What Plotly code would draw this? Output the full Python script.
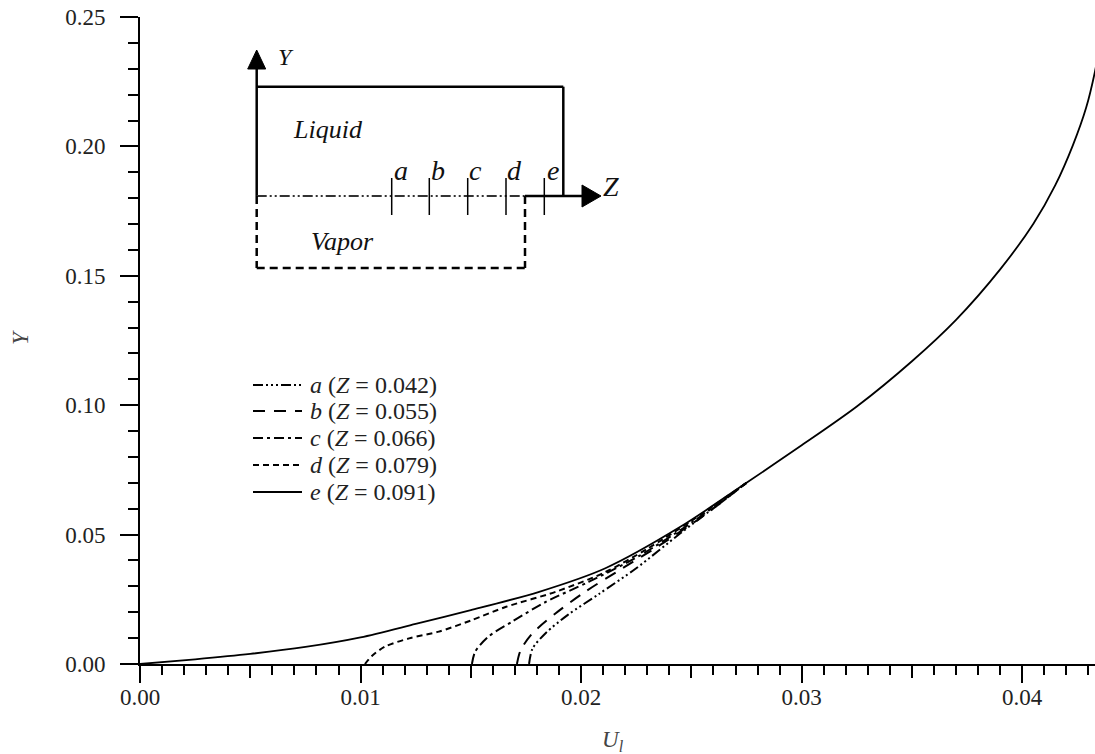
import plotly.graph_objects as go

# ---------------- data ----------------
U_e = [0, 0.0025, 0.005, 0.0075, 0.0100, 0.0125, 0.0150, 0.0181, 0.0211, 0.0245,
       0.0275, 0.0300, 0.0325, 0.0350, 0.0370, 0.0390, 0.0405, 0.0415, 0.0423,
       0.0429, 0.0433, 0.04345]
Y_e = [0, 0.0018, 0.0039, 0.0066, 0.0103, 0.0155, 0.0208, 0.0279, 0.0370, 0.0530,
       0.0700, 0.0845, 0.0995, 0.1170, 0.1330, 0.1525, 0.1700, 0.1850, 0.2005,
       0.2150, 0.2290, 0.2360]

U_d = [0.0102, 0.0105, 0.0111, 0.0122, 0.01355, 0.0150, 0.0166, 0.01885, 0.0211, 0.0230, 0.0250, 0.0275]
Y_d = [0.0000, 0.0030, 0.0067, 0.0099, 0.0125, 0.0168, 0.0221, 0.0279, 0.0355, 0.0445, 0.0553, 0.0700]

U_c = [0.01505, 0.0152, 0.0158, 0.01686, 0.0184, 0.02036, 0.02264, 0.0250, 0.0275]
Y_c = [0.0000, 0.0048, 0.0106, 0.0163, 0.0240, 0.0318, 0.0418, 0.0546, 0.0700]

U_b = [0.01709, 0.01726, 0.0178, 0.01885, 0.0202, 0.02188, 0.0234, 0.0255, 0.0275]
Y_b = [0.0000, 0.0054, 0.0119, 0.0196, 0.0280, 0.0370, 0.0450, 0.0570, 0.0700]

U_a = [0.01764, 0.0178, 0.0184, 0.0194, 0.0208, 0.0225, 0.0245, 0.0262, 0.0275]
Y_a = [0.0000, 0.0060, 0.0120, 0.0190, 0.0270, 0.0370, 0.0505, 0.0615, 0.0700]

labels = ["a", "b", "c", "d", "e"]
z_values = ["0.042", "0.055", "0.066", "0.079", "0.091"]
x_ticks = [0.00, 0.01, 0.02, 0.03, 0.04]
y_ticks = [0.00, 0.05, 0.10, 0.15, 0.20, 0.25]

# ---------------- figure ----------------
FONT = "Liberation Serif"
W_PX, H_PX = 1095, 754
L, R, T, B = 140, 1095, 17, 664

def px(x):
    return (x - L) / (R - L)

def py(y):
    return (B - y) / (B - T)

dashes = ["10px,3px,2px,3px,2px,3px,2px,3px", "12px,9px", "10px,4px,3px,4px", "6px,4px", "solid"]
series = [(U_a, Y_a), (U_b, Y_b), (U_c, Y_c), (U_d, Y_d), (U_e, Y_e)]

fig = go.Figure()
for (u, y), dash, lab, zv in zip(series, dashes, labels, z_values):
    fig.add_trace(go.Scatter(
        x=u, y=y, mode="lines", line_shape="spline",
        line=dict(color="black", width=2 if dash != "solid" else 1.8, dash=dash,
                  smoothing=0.8),
        name=f"{lab} (Z = {zv})", showlegend=False,
    ))

# helper trace for the medium-tick axis
fig.add_trace(go.Scatter(x=[0.02], y=[0.0], xaxis="x2", mode="markers",
                         marker=dict(opacity=0), showlegend=False, hoverinfo="skip"))

fig.update_layout(
    width=W_PX, height=H_PX,
    margin=dict(l=L, r=W_PX - R, t=T, b=H_PX - B),
    paper_bgcolor="white", plot_bgcolor="white",
    font=dict(family=FONT, size=23, color="#222"),
    showlegend=False,
    xaxis=dict(range=[0, 0.0433], showline=True, linecolor="black", linewidth=2,
               ticks="outside", ticklen=17, tickwidth=2, tickcolor="black",
               tickvals=x_ticks, tickformat=".2f", showgrid=False, zeroline=False,
               ticklabelstandoff=-6,
               minor=dict(dtick=0.001, tick0=0, ticks="outside", ticklen=9,
                          tickwidth=2, tickcolor="black", showgrid=False)),
    xaxis2=dict(range=[0, 0.0433], overlaying="x", anchor="y", side="bottom",
                tickvals=[0.005, 0.015, 0.025, 0.035], ticks="outside", ticklen=13,
                tickwidth=2, tickcolor="black", showticklabels=False,
                showline=False, showgrid=False, zeroline=False),
    yaxis=dict(range=[0, 0.25], showline=True, linecolor="black", linewidth=2,
               ticks="outside", ticklen=18, tickwidth=2, tickcolor="black",
               tickvals=y_ticks, tickformat=".2f", showgrid=False, zeroline=False,
               ticklabelstandoff=10,
               minor=dict(dtick=0.01, tick0=0, ticks="outside", ticklen=10,
                          tickwidth=2, tickcolor="black", showgrid=False)),
)

def text(x, y, t, size=23, color="#222", xanchor="center", angle=0):
    fig.add_annotation(x=px(x), y=py(y), xref="paper", yref="paper",
                       text=t, showarrow=False, textangle=angle,
                       xanchor=xanchor, yanchor="middle",
                       font=dict(family=FONT, size=size, color=color))

# axis titles
text(613, 741, "<i>U</i><sub><i>l</i></sub>", 23, "#444")
text(20, 338, "<i>Y</i>", 23, "#444", angle=-90)

# ---------------- legend (drawn in the plot area) ----------------
leg_rows = [385, 411, 438, 465, 492]
for row, dash, lab, zv in zip(leg_rows, dashes, labels, z_values):
    fig.add_shape(type="line", xref="paper", yref="paper",
                  x0=px(253), y0=py(row), x1=px(302), y1=py(row),
                  line=dict(color="black", width=2, dash=dash))
    text(308, row, f"<i>{lab}</i> (<i>Z</i> = {zv})", 24, "#222", xanchor="left")

# ---------------- inset schematic ----------------
def line(x0, y0, x1, y1, width=2.5, dash="solid", color="black"):
    fig.add_shape(type="line", xref="paper", yref="paper",
                  x0=px(x0), y0=py(y0), x1=px(x1), y1=py(y1),
                  line=dict(color=color, width=width, dash=dash))

def tri(points):
    path = "M " + " L ".join(f"{px(a)},{py(b)}" for a, b in points) + " Z"
    fig.add_shape(type="path", xref="paper", yref="paper", path=path,
                  fillcolor="black", line=dict(color="black", width=1))

X0, XL, XV = 256.7, 563.3, 525.0
YT, YZ, YV = 86.7, 196.0, 268.0

# Y axis arrow
line(X0, YZ, X0, 66)
tri([(X0, 50), (X0 - 9, 69), (X0 + 9, 69)])
# liquid box
line(X0, YT, XL, YT)
line(XL, YT, XL, YZ)
# Z axis
line(X0, YZ, XV, YZ, width=1.8, dash="10px,3px,2px,3px,2px,3px", color="#333")
line(XV, YZ, 584, YZ)
tri([(601, YZ), (582, YZ - 11), (582, YZ + 11)])
# vapor box
line(X0, YZ, X0, YV, dash="8px,5px")
line(X0, YV, XV, YV, dash="8px,5px")
line(XV, YZ, XV, YV, dash="8px,5px")
# station ticks
for xs in [391.7, 429.3, 467.7, 506.0, 544.3]:
    line(xs, 178, xs, 215, width=1.5)

text(286, 57, "<i>Y</i>", 24, "#111")
text(328, 130, "<i>Liquid</i>", 26, "#111")
text(342, 242, "<i>Vapor</i>", 26, "#111")
for xs, lab in zip([401, 438, 475, 514, 553], labels):
    text(xs, 170, f"<i>{lab}</i>", 28, "#111")
text(611, 186, "<i>Z</i>", 28, "#111")

fig.write_html("out.html")
